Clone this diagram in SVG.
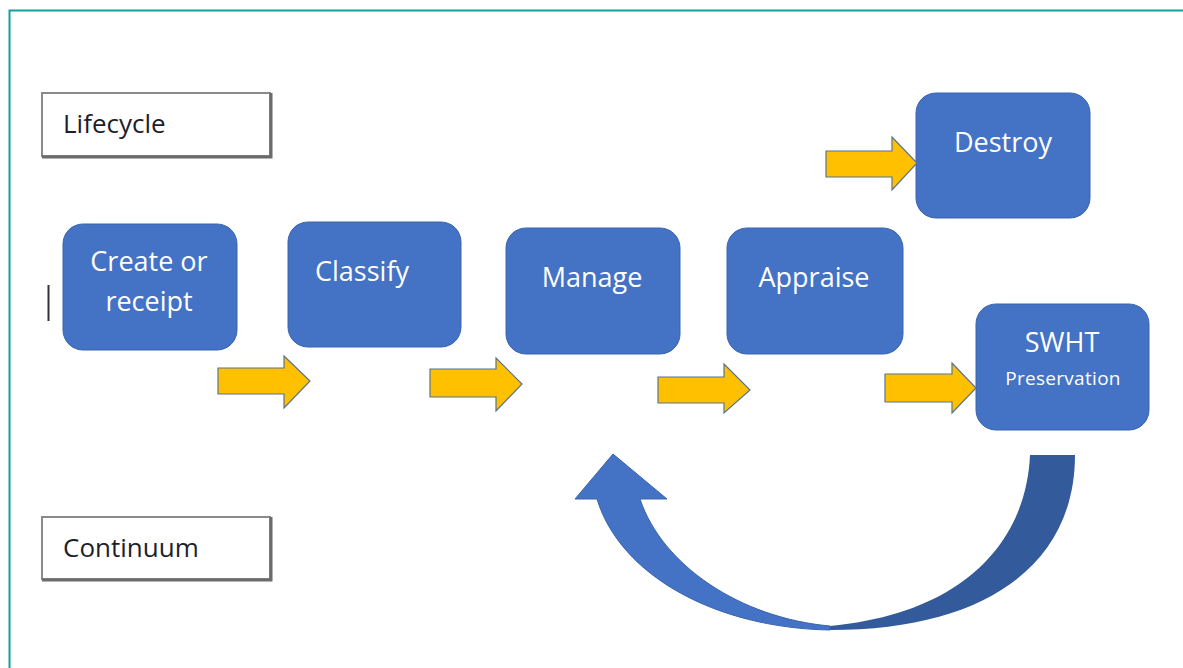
<svg xmlns="http://www.w3.org/2000/svg" width="1183" height="668" viewBox="0 0 1183 668">
<style>
.node rect{fill:#4472C4;stroke:#3A64AE;stroke-width:1}
.node text{fill:#fff;font-family:"Open Sans","Noto Sans",sans-serif;font-size:27px;text-anchor:middle}
.label rect{fill:#fff;stroke:#8a8a8a;stroke-width:2}
.label path{fill:none;stroke:#6b6b6b;stroke-width:3}
.label text{fill:#1e1e2a;font-family:"Open Sans","Noto Sans",sans-serif;font-size:26px}
.yarrow{fill:#FFC000;stroke:#5A7390;stroke-width:1.2;stroke-linejoin:miter}
</style>
<rect width="1183" height="668" fill="#fff"/>
<path d="M9.5,668 V10.5 H1183" fill="none" stroke="#14A09A" stroke-width="2"/>

<g id="label-lifecycle" class="label">
<rect x="42" y="93" width="228" height="63"/>
<path d="M42,157 H271 V93"/>
<text x="63" y="133">Lifecycle</text>
</g>
<g id="label-continuum" class="label">
<rect x="42" y="517" width="228" height="62"/>
<path d="M42,580 H271 V517"/>
<text x="63" y="557">Continuum</text>
</g>

<line x1="48.5" y1="285" x2="48.5" y2="321" stroke="#333" stroke-width="2"/>

<g id="node-create" class="node">
<rect x="63" y="224" width="174" height="126" rx="20"/>
<text x="149" y="271">Create or</text>
<text x="149" y="311">receipt</text>
</g>
<g id="node-classify" class="node">
<rect x="288" y="222" width="173" height="125" rx="20"/>
<text x="362" y="281">Classify</text>
</g>
<g id="node-manage" class="node">
<rect x="506" y="228" width="174" height="126" rx="20"/>
<text x="592" y="287">Manage</text>
</g>
<g id="node-appraise" class="node">
<rect x="727" y="228" width="176" height="126" rx="20"/>
<text x="814" y="287">Appraise</text>
</g>
<g id="node-destroy" class="node">
<rect x="916" y="93" width="174" height="125" rx="20"/>
<text x="1003" y="152">Destroy</text>
</g>
<g id="node-swht" class="node">
<rect x="976" y="304" width="173" height="126" rx="20"/>
<text x="1062" y="352">SWHT</text>
<text x="1063" y="385" style="font-size:19px;letter-spacing:0.3px">Preservation</text>
</g>

<g id="connectors">
<polygon class="yarrow" points="218,368 284,368 284,356 310,381 284,408 284,394 218,394"/>
<polygon class="yarrow" points="430,369 496,369 496,358 522,384 496,411 496,397 430,397"/>
<polygon class="yarrow" points="658,377 724,377 724,364 750,390 724,413 724,403 658,403"/>
<polygon class="yarrow" points="885,374 952,374 952,363 976,388 952,413 952,402 885,402"/>
<polygon class="yarrow" points="826,151 892,151 892,137 917,163 892,190 892,177 826,177"/>
<path d="M1030,455 L1075,455 C1075,565 985,630 830,630 L830,626 C960,614 1026,545 1030,455 Z" fill="#335A9A"/>
<path d="M575,499 L613,454 L667,499 L640,499 C662,565 740,618 830,626 L830,630 C715,628 620,575 597,499 Z" fill="#4472C4" stroke="#3A64AE" stroke-width="1"/>
</g>
</svg>
